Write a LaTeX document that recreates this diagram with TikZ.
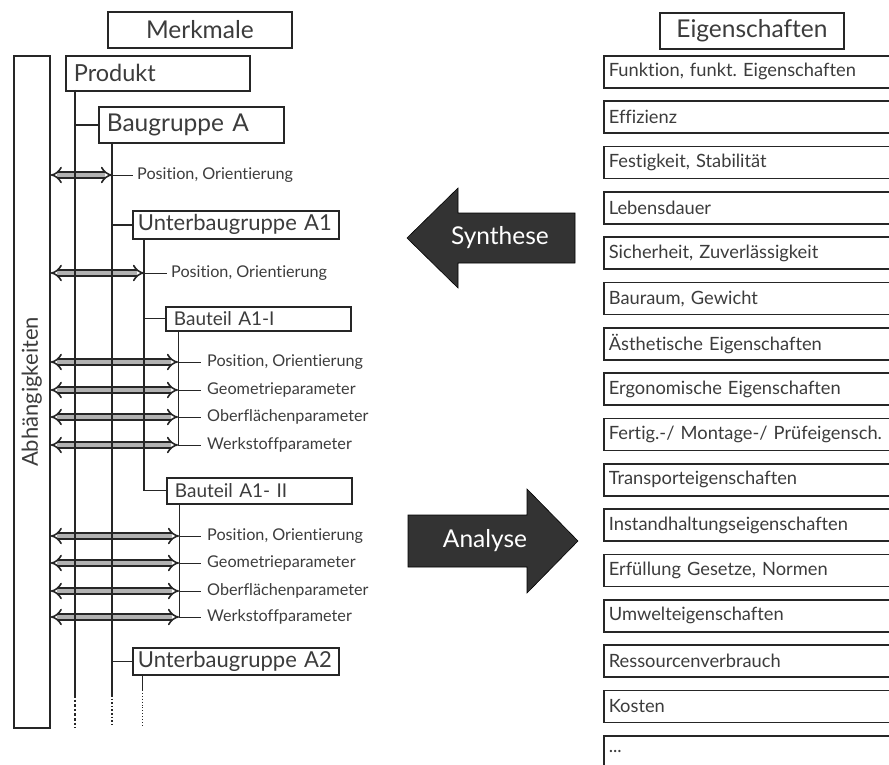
\documentclass[tikz,border=0pt]{standalone}
\usepackage{fontspec}
\setmainfont{Lato}[Ligatures={NoCommon}]
\usetikzlibrary{arrows.meta}
\definecolor{txtgrey}{HTML}{3C3C3C}
\definecolor{boxline}{HTML}{262626}
\definecolor{arrdark}{HTML}{333333}
\frenchspacing
\begin{document}
\begin{tikzpicture}[x=1pt, y=-1pt,
    box/.style={draw=boxline, line width=1.8pt, fill=white, anchor=north west,
        inner ysep=0pt, inner xsep=8pt, align=left, text=txtgrey},
    head/.style={box, align=center, text width=168, minimum height=36,
        font=\fontsize{24.5}{26}\selectfont},
    eig/.style={box, line width=1.6pt, inner xsep=5pt, text width=279, minimum height=32,
        font=\fontsize{18.3}{20}\selectfont},
    par/.style={anchor=west, inner sep=0pt, text=txtgrey, font=\fontsize{16.2}{18}\selectfont},
    dep/.style={draw=boxline, line width=1.6pt, double=black!30, double distance=4pt,
        {Implies}-{Implies}},
    tick/.style={draw=boxline, line width=0.9pt},
    arrtxt/.style={text=white, font=\fontsize{24.5}{26}\selectfont}
]
    \useasboundingbox (0,0) rectangle (889,765);

    % Kopfzeilen
    \node[head] (merk) at (107,11) {Merkmale};
    \node[head] (eigs) at (659,12) {Eigenschaften};

    % Abhaengigkeiten
    \node[draw=boxline, line width=1.8pt, anchor=north west, minimum width=36,
        minimum height=672, inner sep=0pt] (abh) at (13,55) {};
    \node[rotate=90, text=txtgrey, font=\fontsize{22}{24}\selectfont] (abhtxt) at (abh.center) {Abhängigkeiten};

    % Produktstruktur
    \node[box, text width=168, minimum height=35, font=\fontsize{23.5}{25}\selectfont] (prod) at (65,55) {Produkt};
    \node[box, text width=169, minimum height=36, font=\fontsize{24.5}{26}\selectfont] (baugA) at (98,106) {Baugruppe A};
    \node[box, inner xsep=5pt, text width=196, minimum height=28, font=\fontsize{22}{24}\selectfont] (ubgA1) at (132,210) {Unterbaugruppe A1};
    \node[box, text width=169, minimum height=24, font=\fontsize{19}{21}\selectfont] (btI) at (165,306) {Bauteil A1-I};
    \node[box, text width=169, minimum height=26, font=\fontsize{19}{21}\selectfont] (btII) at (166,477) {Bauteil A1- II};
    \node[box, inner xsep=5pt, text width=196, minimum height=27, font=\fontsize{22}{24}\selectfont] (ubgA2) at (132,647) {Unterbaugruppe A2};

    \coordinate (t0) at (75,90);
    \coordinate (t0e) at (75,695);
    \coordinate (t0d) at (75,728);
    \coordinate (t1) at (112,142);
    \coordinate (t1e) at (112,695);
    \coordinate (t1d) at (112,727);
    \coordinate (t2) at (144,238);
    \coordinate (t3) at (178,330);
    \coordinate (t4) at (179,503);
    \coordinate (t5) at (142,674);
    \coordinate (t5e) at (142,690);
    \coordinate (t5d) at (142,727);

    % Parameter
    \node[par] (p1) at (137,175) {Position, Orientierung};
    \node[par] (p2) at (171,273) {Position, Orientierung};
    \node[par] (p3) at (207,362) {Position, Orientierung};
    \node[par] (p4) at (207,390) {Geometrieparameter};
    \node[par] (p5) at (207,417) {Oberflächenparameter};
    \node[par] (p6) at (207,445) {Werkstoffparameter};
    \node[par] (p7) at (207,536) {Position, Orientierung};
    \node[par] (p8) at (207,563) {Geometrieparameter};
    \node[par] (p9) at (207,591) {Oberflächenparameter};
    \node[par] (p10) at (207,617) {Werkstoffparameter};

    % Doppelpfeile
    \draw[dep] (abh.east |- p1.west) -- (t1 |- p1.west);
    \draw[dep] (abh.east |- p2.west) -- (t2 |- p2.west);
    \draw[dep] (abh.east |- p3.west) -- (t3 |- p3.west);
    \draw[dep] (abh.east |- p4.west) -- (t3 |- p4.west);
    \draw[dep] (abh.east |- p5.west) -- (t3 |- p5.west);
    \draw[dep] (abh.east |- p6.west) -- (t3 |- p6.west);
    \draw[dep] (abh.east |- p7.west) -- (t4 |- p7.west);
    \draw[dep] (abh.east |- p8.west) -- (t4 |- p8.west);
    \draw[dep] (abh.east |- p9.west) -- (t4 |- p9.west);
    \draw[dep] (abh.east |- p10.west) -- (t4 |- p10.west);

    % Baumlinien
    \draw[boxline, line width=2.6pt] (t0) -- (t0e);
    \draw[boxline, line width=2.6pt, dotted] (t0e) -- (t0d);
    \draw[boxline, line width=1.6pt] (t0 |- baugA.west) -- (baugA.west);
    \draw[boxline, line width=1.6pt] (t1) -- (t1e);
    \draw[boxline, line width=1.6pt, dotted] (t1e) -- (t1d);
    \draw[boxline, line width=1.2pt] (t1 |- ubgA1.west) -- (ubgA1.west);
    \draw[boxline, line width=1.2pt] (t1 |- ubgA2.west) -- (ubgA2.west);
    \draw[boxline, line width=1.1pt] (t2) -- (t2 |- btII.west) -- (btII.west);
    \draw[boxline, line width=0.9pt] (t2 |- btI.west) -- (btI.west);
    \draw[boxline, line width=0.8pt] (t3) -- (t3 |- p6.west);
    \draw[boxline, line width=0.8pt] (t4) -- (t4 |- p10.west);
    \draw[boxline, line width=0.9pt] (t5) -- (t5e);
    \draw[boxline, line width=0.9pt, dotted] (t5e) -- (t5d);

    \draw[tick] (t1 |- p1.west) -- ([xshift=-4pt]p1.west);
    \draw[tick] (t2 |- p2.west) -- ([xshift=-4pt]p2.west);
    \draw[tick] (t3 |- p3.west) -- ([xshift=-6pt]p3.west);
    \draw[tick] (t3 |- p4.west) -- ([xshift=-6pt]p4.west);
    \draw[tick] (t3 |- p5.west) -- ([xshift=-6pt]p5.west);
    \draw[tick] (t3 |- p6.west) -- ([xshift=-6pt]p6.west);
    \draw[tick] (t4 |- p7.west) -- ([xshift=-6pt]p7.west);
    \draw[tick] (t4 |- p8.west) -- ([xshift=-6pt]p8.west);
    \draw[tick] (t4 |- p9.west) -- ([xshift=-6pt]p9.west);
    \draw[tick] (t4 |- p10.west) -- ([xshift=-6pt]p10.west);

    % Synthese / Analyse
    \filldraw[fill=arrdark, draw=black, line width=0.6pt]
        (407,238) -- (458,188) -- (458,213) -- (575,213) -- (575,263) -- (458,263) -- (458,288) -- cycle;
    \node[arrtxt] (synth) at (500,238) {Synthese};
    \filldraw[fill=arrdark, draw=black, line width=0.6pt]
        (408,515) -- (527,515) -- (527,489) -- (578,541) -- (527,593) -- (527,567) -- (408,567) -- cycle;
    \node[arrtxt] (anal) at (485,541) {Analyse};

    % Eigenschaften
    \node[eig] (e1) at (603,55) {Funktion, funkt. Eigenschaften};
    \node[eig] (e2) at (603,100.3) {Effizienz};
    \node[eig] (e3) at (603,145.7) {Festigkeit, Stabilität};
    \node[eig] (e4) at (603,191) {Lebensdauer};
    \node[eig] (e5) at (603,236.3) {Sicherheit, Zuverlässigkeit};
    \node[eig] (e6) at (603,281.7) {Bauraum, Gewicht};
    \node[eig] (e7) at (603,327) {Ästhetische Eigenschaften};
    \node[eig] (e8) at (603,372.3) {Ergonomische Eigenschaften};
    \node[eig] (e9) at (603,417.7) {Fertig.-/ Montage-/ Prüfeigensch.};
    \node[eig] (e10) at (603,463) {Transporteigenschaften};
    \node[eig] (e11) at (603,508.3) {Instandhaltungseigenschaften};
    \node[eig] (e12) at (603,553.7) {Erfüllung Gesetze, Normen};
    \node[eig] (e13) at (603,599) {Umwelteigenschaften};
    \node[eig] (e14) at (603,644.3) {Ressourcenverbrauch};
    \node[eig] (e15) at (603,689.7) {Kosten};
    \node[eig] (e16) at (603,735) {...};
\end{tikzpicture}
\end{document}
